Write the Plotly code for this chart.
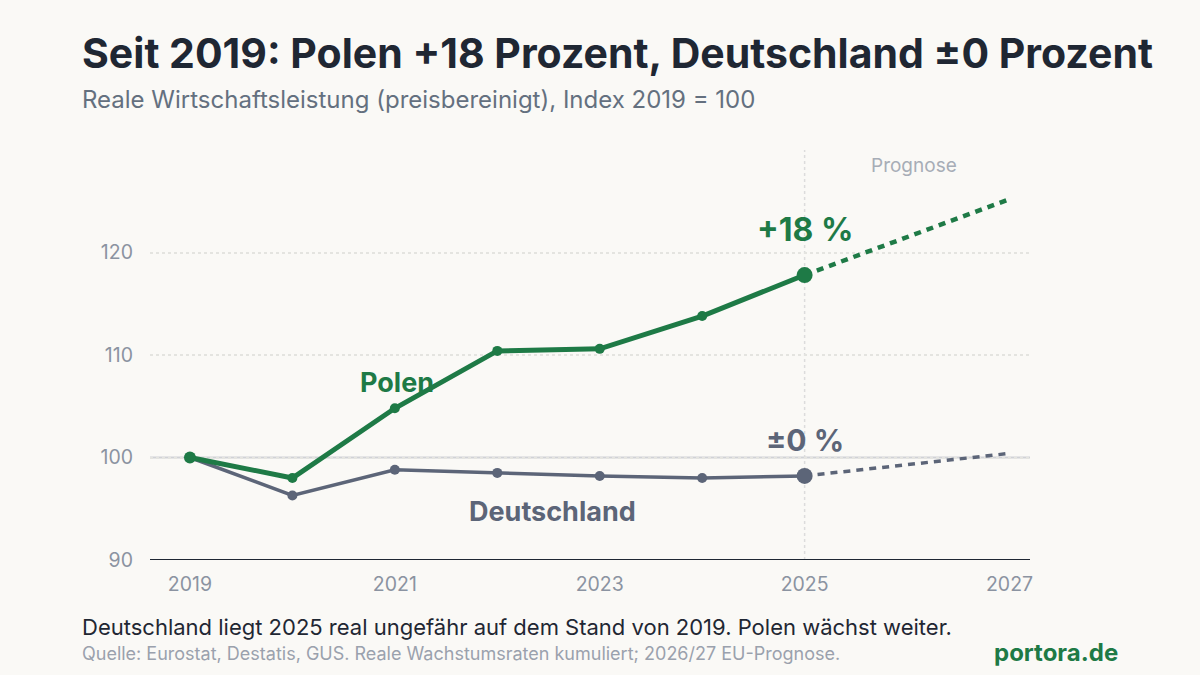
import plotly.graph_objects as go

years_hist = [2019, 2020, 2021, 2022, 2023, 2024, 2025]
polen_hist = [100.0, 98.0, 104.8, 110.4, 110.6, 113.8, 117.8]
de_hist = [100.0, 96.3, 98.8, 98.5, 98.2, 98.0, 98.2]

years_fc = [2025, 2026, 2027]
polen_fc = [117.8, 121.5, 125.2]
de_fc = [98.2, 99.3, 100.4]

x_ticks = [2019, 2021, 2023, 2025, 2027]
y_ticks = [90, 100, 110, 120]

GREEN = "#1e7a46"
GRAY = "#5c6578"
BG = "#faf9f6"
FONT = "Inter"

fig = go.Figure()

# forecast dashed lines
fig.add_trace(go.Scatter(x=years_fc, y=polen_fc, mode="lines",
                         line=dict(color=GREEN, width=4.5, dash="7px,6px"),
                         hoverinfo="skip", showlegend=False))
fig.add_trace(go.Scatter(x=years_fc, y=de_fc, mode="lines",
                         line=dict(color=GRAY, width=3.5, dash="7px,6px"),
                         hoverinfo="skip", showlegend=False))

# historical lines
fig.add_trace(go.Scatter(x=years_hist, y=de_hist, mode="lines+markers",
                         line=dict(color=GRAY, width=3.5),
                         marker=dict(color=GRAY, size=[10]*6 + [16], opacity=1,
                                     line=dict(width=0)),
                         showlegend=False))
fig.add_trace(go.Scatter(x=years_hist, y=polen_hist, mode="lines+markers",
                         line=dict(color=GREEN, width=5),
                         marker=dict(color=GREEN, size=[12, 10, 10, 10, 10, 10, 16], opacity=1,
                                     line=dict(width=0)),
                         showlegend=False))

# reference lines
fig.add_shape(type="line", xref="paper", x0=0, x1=1, y0=100, y1=100,
              line=dict(color="#d0d2d6", width=2), layer="below")
fig.add_shape(type="line", x0=2025, x1=2025, yref="paper", y0=0, y1=1,
              line=dict(color="#dcdcdc", width=1.5, dash="dot"), layer="below")

annotations = [
    dict(text="<b>Seit 2019: Polen +18 Prozent, Deutschland ±0 Prozent</b>",
         xref="paper", yref="paper", x=-0.08, y=1.237, xanchor="left", yanchor="middle",
         font=dict(size=41, color="#1f2733", family=FONT), showarrow=False),
    dict(text="Reale Wirtschaftsleistung (preisbereinigt), Index 2019 = 100",
         xref="paper", yref="paper", x=-0.08, y=1.124, xanchor="left", yanchor="middle",
         font=dict(size=24, color="#64707f", family=FONT), showarrow=False),
    dict(text="Prognose", x=2026.07, y=128.5, xanchor="center", yanchor="middle",
         font=dict(size=19, color="#a7adb6", family=FONT), showarrow=False),
    dict(text="<b>+18 %</b>", x=2025, y=122.2, xanchor="center", yanchor="middle",
         font=dict(size=32, color=GREEN, family=FONT), showarrow=False),
    dict(text="<b>±0 %</b>", x=2025, y=101.7, xanchor="center", yanchor="middle",
         font=dict(size=30, color=GRAY, family=FONT), showarrow=False),
    dict(text="<b>Polen</b>", x=2021.02, y=107.3, xanchor="center", yanchor="middle",
         font=dict(size=27, color=GREEN, family=FONT), showarrow=False),
    dict(text="<b>Deutschland</b>", x=2022.54, y=94.7, xanchor="center", yanchor="middle",
         font=dict(size=27, color=GRAY, family=FONT), showarrow=False),
    dict(text="Deutschland liegt 2025 real ungefähr auf dem Stand von 2019. Polen wächst weiter.",
         xref="paper", yref="paper", x=-0.08, y=-0.163, xanchor="left", yanchor="middle",
         font=dict(size=22, color="#1f2733", family=FONT), showarrow=False),
    dict(text="Quelle: Eurostat, Destatis, GUS. Reale Wachstumsraten kumuliert; 2026/27 EU-Prognose.",
         xref="paper", yref="paper", x=-0.08, y=-0.229, xanchor="left", yanchor="middle",
         font=dict(size=18, color="#9aa1ad", family=FONT), showarrow=False),
    dict(text="<b>portora.de</b>", xref="paper", yref="paper", x=1.102, y=-0.226,
         xanchor="right", yanchor="middle",
         font=dict(size=24, color=GREEN, family=FONT), showarrow=False),
]

fig.update_layout(
    width=1200, height=675,
    paper_bgcolor=BG, plot_bgcolor=BG,
    margin=dict(l=150, r=170, t=150, b=115),
    font=dict(family=FONT),
    annotations=annotations,
    xaxis=dict(range=[2018.61, 2027.2], tickvals=x_ticks,
               ticktext=[str(v) for v in x_ticks],
               showgrid=False, zeroline=False, showline=False,
               ticks="", tickfont=dict(size=19.5, color="#8b93a1"), ticklabelstandoff=10),
    yaxis=dict(range=[90, 130], tickvals=y_ticks, ticktext=[str(v) for v in y_ticks],
               showgrid=True, gridcolor="#e4e4e0", griddash="dot", gridwidth=1.5,
               zeroline=False, showline=False, ticks="",
               tickfont=dict(size=19.5, color="#8b93a1"), ticklabelstandoff=16),
)

# baseline axis at 90
fig.add_shape(type="line", xref="paper", x0=0, x1=1, y0=90, y1=90,
              line=dict(color="#1f2733", width=2))

fig.write_html("out.html")
